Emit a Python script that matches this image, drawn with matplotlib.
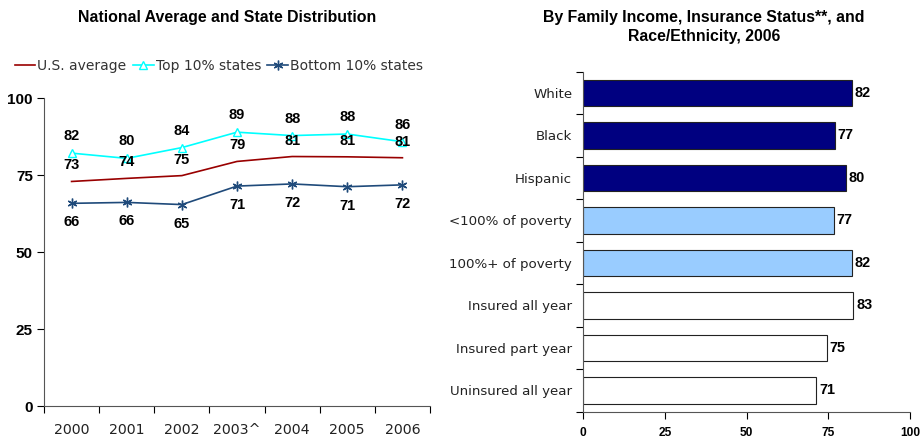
import matplotlib
matplotlib.use("Agg")
import matplotlib.pyplot as plt
import numpy as np

years = ["2000", "2001", "2002", "2003^", "2004", "2005", "2006"]
us_avg = [72.9, 73.9, 74.8, 79.4, 81.0, 80.9, 80.6]
top10 = [82.1, 80.4, 83.9, 88.9, 87.8, 88.3, 85.8]
bottom10 = [65.8, 66.1, 65.4, 71.4, 72.1, 71.2, 71.8]

groups = ["White", "Black", "Hispanic", "<100% of poverty", "100%+ of poverty",
          "Insured all year", "Insured part year", "Uninsured all year"]
group_vals = [82.3, 77.0, 80.3, 76.6, 82.3, 82.7, 74.6, 71.3]
group_colors = ["#000080", "#000080", "#000080", "#99CCFF", "#99CCFF",
                "#FFFFFF", "#FFFFFF", "#FFFFFF"]

BOLD = "Liberation Sans"
REG = "DejaVu Sans"

fig = plt.figure(figsize=(9.21, 4.4), dpi=100)
W, H = 921, 440

def ax_px(x0, y0, x1, y1):
    return fig.add_axes([x0 / W, 1 - y1 / H, (x1 - x0) / W, (y1 - y0) / H])

# ---------- left panel ----------
ax = ax_px(44, 98, 430, 406)
x = np.arange(len(years))
us_c = "#990000"
top_c = "#00FFFF"
bot_c = "#1F4A7A"
ax.plot(x, us_avg, color=us_c, lw=1.2, label="U.S. average")
ax.plot(x, top10, color=top_c, lw=1.2, marker="^", ms=6, mfc="white",
        mec=top_c, mew=1.0, label="Top 10% states")
ax.plot(x, bottom10, color=bot_c, lw=1.2, marker=(6, 2, 0), ms=7,
        mec=bot_c, mew=1.0, label="Bottom 10% states")
ax.set_xlim(-0.5, len(years) - 0.5)
ax.set_ylim(0, 100)
ax.set_yticks([0, 25, 50, 75, 100])
ax.set_yticklabels(["0", "25", "50", "75", "100"], fontfamily=BOLD,
                   fontweight="bold", fontsize=11)
ax.set_xticks(np.arange(len(years) + 1) - 0.5)
ax.set_xticklabels([])
ax.set_xticks(x, minor=True)
ax.set_xticklabels(years, minor=True, fontfamily=REG, fontsize=10.2,
                   color="#222222")
ax.tick_params(axis="x", which="minor", length=0, pad=12)
ax.tick_params(axis="x", which="major", length=5, direction="out", color="black")
ax.tick_params(axis="y", length=5, direction="out", pad=3)
for s in ["top", "right"]:
    ax.spines[s].set_visible(False)
for s in ["left", "bottom"]:
    ax.spines[s].set_color("#555555")

lab_kw = dict(ha="center", va="center", fontfamily=BOLD, fontweight="bold",
              fontsize=10.5, textcoords="offset points")
for i in x:
    ax.annotate(f"{round(top10[i])}", (i, top10[i]), xytext=(0, 12.2), **lab_kw)
    ax.annotate(f"{round(us_avg[i])}", (i, us_avg[i]), xytext=(0, 11.5), **lab_kw)
    ax.annotate(f"{round(bottom10[i])}", (i, bottom10[i]), xytext=(0, -13.7),
                **lab_kw)

leg = fig.legend(loc="center left", bbox_to_anchor=(2 / W, 1 - 66 / H), ncol=3,
                 frameon=False, prop={"family": REG, "size": 10},
                 handlelength=1.5, handletextpad=0.15, columnspacing=0.45)
for t in leg.get_texts():
    t.set_color("#333333")

fig.text(227.5 / W, 1 - 17.5 / H, "National Average and State Distribution",
         ha="center", va="center", fontfamily=BOLD, fontweight="bold",
         fontsize=11.4)

# ---------- right panel ----------
bx = ax_px(583.3, 71.7, 910, 411.7)
yy = np.arange(len(groups))
bx.barh(yy, group_vals, height=0.63, color=group_colors, edgecolor="#222222",
        linewidth=0.8)
bx.set_ylim(len(groups) - 0.5, -0.5)
bx.set_xlim(0, 100)
bx.set_xticks([0, 25, 50, 75, 100])
bx.set_xticklabels(["0", "25", "50", "75", "100"], fontfamily=BOLD,
                   fontweight="bold", fontsize=8.6)
bx.set_yticks(np.arange(len(groups) + 1) - 0.5)
bx.set_yticklabels([])
bx.set_yticks(yy, minor=True)
bx.set_yticklabels(groups, minor=True, fontfamily=REG, fontsize=9.6,
                   color="#222222")
bx.tick_params(axis="y", which="minor", length=0, pad=8)
bx.tick_params(axis="y", which="major", length=5, direction="out")
bx.tick_params(axis="x", length=5, direction="out", pad=6)
for s in ["top", "right"]:
    bx.spines[s].set_visible(False)
for s in ["left", "bottom"]:
    bx.spines[s].set_color("#555555")
for i, v in enumerate(group_vals):
    bx.annotate(f"{round(v)}", (v, i), xytext=(2, 0), textcoords="offset points",
                ha="left", va="center", fontfamily=BOLD, fontweight="bold",
                fontsize=10.4)

fig.text(704 / W, 1 - 17.5 / H, "By Family Income, Insurance Status**, and",
         ha="center", va="center", fontfamily=BOLD, fontweight="bold",
         fontsize=11.4)
fig.text(704 / W, 1 - 36 / H, "Race/Ethnicity, 2006",
         ha="center", va="center", fontfamily=BOLD, fontweight="bold",
         fontsize=11.4)

fig.savefig("out.png", dpi=100)
